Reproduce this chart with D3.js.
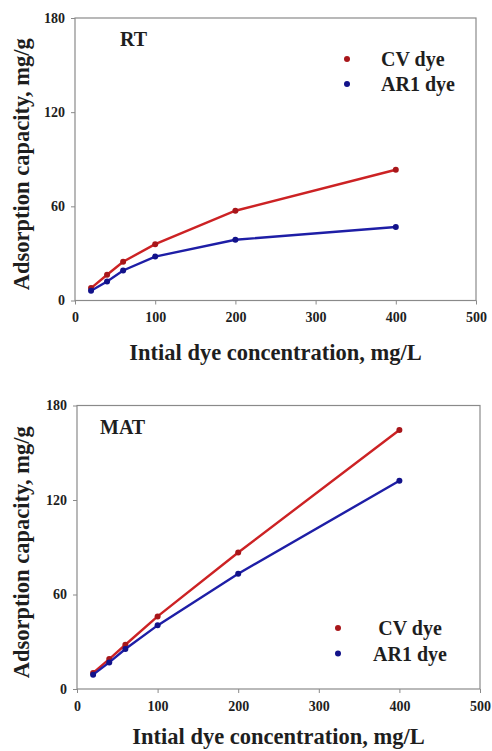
<!DOCTYPE html>
<html>
<head>
<meta charset="utf-8">
<script src="https://cdn.jsdelivr.net/npm/d3@7"></script>
<style>
  body { margin: 0; background: #fff; }
  svg text { font-family: "Liberation Serif", "Times New Roman", Times, "DejaVu Serif", serif; font-weight: bold; fill: #1e1e1e; }
</style>
</head>
<body>
<div class="chart"></div>
<script>
// initial dye concentration, mg/L
const concentrations = [20, 40, 60, 100, 200, 400];

// adsorption capacity, mg/g
const rtCV = [7.9, 16.4, 24.7, 35.9, 57.2, 83.3];
const rtAR1 = [6.2, 12.1, 19.1, 28.0, 38.7, 46.8];
const matCV = [10.2, 19.0, 28.1, 46.1, 86.7, 164.4];
const matAR1 = [9.1, 16.9, 25.4, 40.4, 73.2, 132.2];

const xTicks = [0, 100, 200, 300, 400, 500];
const yTicks = [0, 60, 120, 180];
const seriesNames = ['CV dye', 'AR1 dye'];

const W = 492, H = 751;
const lineColors = ['#cc2224', '#1e1ea6'];
const dotColors = ['#a8161a', '#12128a'];
const serif = '"Liberation Serif", "Times New Roman", Times, "DejaVu Serif", serif';

let svg = d3.select('.chart')
	.append('svg')
	.attr('width', W)
	.attr('height', H);

function drawPanel(p) {
	let x = d3.scaleLinear().domain([0, 500]).range([p.left, p.right]);
	let y = d3.scaleLinear().domain([0, 180]).range([p.bottom, p.top]);

	let g = svg.append('g');

	// frame
	g.append('rect')
		.attr('x', p.left)
		.attr('y', p.top)
		.attr('width', p.right - p.left)
		.attr('height', p.bottom - p.top)
		.attr('fill', 'none')
		.attr('stroke', '#8a8a8a')
		.attr('stroke-width', 1.2);

	let xAxis = g.append('g')
		.attr('transform', `translate(0,${p.bottom})`)
		.call(d3.axisBottom(x).tickValues(xTicks).tickSize(4).tickPadding(8));
	let yAxis = g.append('g')
		.attr('transform', `translate(${p.left},0)`)
		.call(d3.axisLeft(y).tickValues(yTicks).tickSize(4).tickPadding(6));

	[xAxis, yAxis].forEach(a => {
		a.attr('font-family', serif).attr('font-size', 14);
		a.select('.domain').remove();
		a.selectAll('line').attr('stroke', '#8a8a8a');
		a.selectAll('text').attr('fill', '#1e1e1e');
	});

	let line = d3.line()
		.x((d, i) => x(concentrations[i]))
		.y(d => y(d));

	p.series.forEach((s, k) => {
		g.append('path')
			.datum(s)
			.attr('d', line)
			.attr('fill', 'none')
			.attr('stroke', lineColors[k])
			.attr('stroke-width', 2.4);

		g.append('g')
			.selectAll('circle')
			.data(s)
			.join('circle')
			.attr('cx', (d, i) => x(concentrations[i]))
			.attr('cy', d => y(d))
			.attr('r', 3)
			.attr('fill', dotColors[k]);
	});

	// legend
	seriesNames.forEach((name, k) => {
		g.append('circle')
			.attr('cx', p.legendDotX)
			.attr('cy', p.legendY + k * p.legendGap)
			.attr('r', 3)
			.attr('fill', dotColors[k]);
		g.append('text')
			.text(name)
			.attr('x', p.legendTextX)
			.attr('y', p.legendY + k * p.legendGap + 7)
			.attr('text-anchor', p.legendAnchor)
			.attr('font-size', '20px');
	});

	g.append('text')
		.text(p.label)
		.attr('x', p.labelX)
		.attr('y', p.top + 28)
		.attr('font-size', '20px');

	g.append('text')
		.text('Intial dye concentration, mg/L')
		.attr('x', (p.left + p.right) / 2)
		.attr('y', p.bottom + p.titleGap)
		.attr('text-anchor', 'middle')
		.attr('font-size', '22.5px');

	g.append('text')
		.text('Adsorption capacity, mg/g')
		.attr('transform', `translate(29,${(p.top + p.bottom) / 2 + 5}) rotate(-90)`)
		.attr('text-anchor', 'middle')
		.attr('font-size', '22.5px');
}

drawPanel({
	left: 75, right: 476, top: 18, bottom: 300.5, titleGap: 59,
	series: [rtCV, rtAR1], label: 'RT', labelX: 120,
	legendDotX: 347, legendTextX: 381, legendAnchor: 'start', legendY: 59, legendGap: 25
});

drawPanel({
	left: 77, right: 480, top: 405.5, bottom: 689, titleGap: 55,
	series: [matCV, matAR1], label: 'MAT', labelX: 100,
	legendDotX: 338, legendTextX: 410, legendAnchor: 'middle', legendY: 628, legendGap: 25.5
});
</script>
</body>
</html>
